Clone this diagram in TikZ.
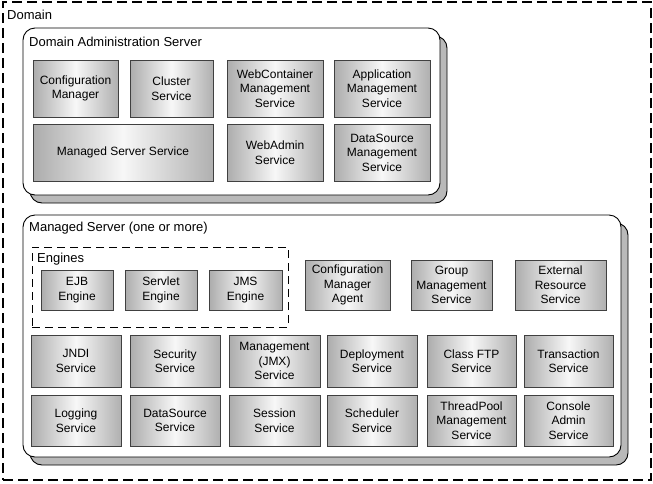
\documentclass[tikz,border=0pt]{standalone}
\usepackage{fontspec}
\setmainfont{Liberation Sans}
\usetikzlibrary{shadows}

\begin{document}
\begin{tikzpicture}[x=1pt, y=-1pt,
	service/.style={draw=black!75, line width=0.8pt, rectangle, align=center, inner sep=0pt, minimum height=57pt, left color=gray!65, right color=gray!62, middle color=gray!6, font=\fontsize{12}{14.5}\selectfont},
	server/.style={draw, line width=0.9pt, rounded corners=12pt, fill=white, copy shadow={shadow xshift=7pt, shadow yshift=-8pt, fill=gray!55, draw=black, line width=0.9pt}},
	heading/.style={anchor=west, inner sep=0pt, font=\fontsize{13}{15}\selectfont}]
				\useasboundingbox (0, 0) rectangle (653, 483);

				\node[draw, dashed, dash pattern=on 10pt off 5pt, line width=1.1pt, minimum width=648pt, minimum height=478pt] at (327, 241) (domain) {};
				\node[heading] at (7, 15) (domain-text) {Domain};

				\node[server, minimum width=417pt, minimum height=167pt] at (231.5, 111.5) (admin-server) {};
				\node[heading] at (29, 42) (admin-server-text) {Domain Administration Server};

				\node[service, minimum width=85pt] at (75.5, 88.5) (configuration-manager) {Configuration\\Manager};
				\node[service, minimum width=83pt] at (171.5, 88.5) (cluster-service) {Cluster\\Service};
				\node[service, minimum width=96pt] at (275, 88.5) (webcontainer-management) {WebContainer\\Management\\Service};
				\node[service, minimum width=96pt] at (382, 88.5) (application-management) {Application\\Management\\Service};
				\node[service, minimum width=180pt] at (123, 152.5) (managed-server-service) {Managed Server Service};
				\node[service, minimum width=96pt] at (275, 152.5) (webadmin-service) {WebAdmin\\Service};
				\node[service, minimum width=96pt] at (382, 152.5) (datasource-management) {DataSource\\Management\\Service};

				\node[server, minimum width=598pt, minimum height=242pt] at (322, 336) (managed-server) {};
				\node[heading] at (29, 228) (managed-server-text) {Managed Server (one or more)};

				\node[draw, dashed, dash pattern=on 8pt off 5pt, line width=0.9pt, minimum width=256pt, minimum height=80pt] at (160, 287) (engines) {};
				\node[heading] at (37, 259) (engines-text) {Engines};
				\node[service, minimum width=72pt, minimum height=40pt] at (77, 290) (ejb-engine) {EJB\\Engine};
				\node[service, minimum width=72pt, minimum height=40pt] at (161, 290) (servlet-engine) {Servlet\\Engine};
				\node[service, minimum width=73pt, minimum height=40pt] at (245.5, 290) (jms-engine) {JMS\\Engine};

				\node[service, minimum width=85pt, minimum height=50pt] at (347.5, 285) (configuration-agent) {Configuration\\Manager\\Agent};
				\node[service, minimum width=81pt, minimum height=50pt] at (451.5, 285) (group-management) {Group\\Management\\Service};
				\node[service, minimum width=91pt, minimum height=50pt] at (560.5, 285) (external-resource) {External\\Resource\\Service};

				\node[service, minimum width=90pt, minimum height=52pt] at (76, 361) (jndi-service) {JNDI\\Service};
				\node[service, minimum width=90pt, minimum height=52pt] at (175, 361) (security-service) {Security\\Service};
				\node[service, minimum width=91pt, minimum height=52pt] at (274.5, 361) (management-jmx) {Management\\(JMX)\\Service};
				\node[service, minimum width=90pt, minimum height=52pt] at (372, 361) (deployment-service) {Deployment\\Service};
				\node[service, minimum width=89pt, minimum height=52pt] at (471.5, 361) (class-ftp-service) {Class FTP\\Service};
				\node[service, minimum width=89pt, minimum height=52pt] at (568.5, 361) (transaction-service) {Transaction\\Service};

				\node[service, minimum width=90pt, minimum height=51pt] at (76, 420.5) (logging-service) {Logging\\Service};
				\node[service, minimum width=90pt, minimum height=51pt] at (175, 420.5) (datasource-service) {DataSource\\Service};
				\node[service, minimum width=91pt, minimum height=51pt] at (274.5, 420.5) (session-service) {Session\\Service};
				\node[service, minimum width=90pt, minimum height=51pt] at (372, 420.5) (scheduler-service) {Scheduler\\Service};
				\node[service, minimum width=89pt, minimum height=51pt] at (471.5, 420.5) (threadpool-management) {ThreadPool\\Management\\Service};
				\node[service, minimum width=89pt, minimum height=51pt] at (568.5, 420.5) (console-admin) {Console\\Admin\\Service};
			\end{tikzpicture}
\end{document}
